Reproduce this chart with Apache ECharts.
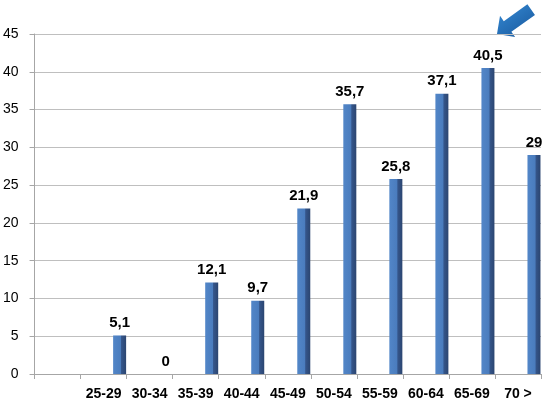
<!DOCTYPE html>
<html><head><meta charset="utf-8">
<script src="https://cdn.jsdelivr.net/npm/echarts@6/dist/echarts.min.js"></script>
<style>html,body{margin:0;padding:0;background:#fff}#c{width:550px;height:405px}</style>
</head><body><div id="c"></div>
<script>
const categories = ['', '25-29', '30-34', '35-39', '40-44', '45-49', '50-54', '55-59', '60-64', '65-69', '70 >'];
const values = [null, 5.1, 0, 12.1, 9.7, 21.9, 35.7, 25.8, 37.1, 40.5, 29];
const yTicks = { min: 0, max: 45, interval: 5 };

const chart = echarts.init(document.getElementById('c'), null, { renderer: 'canvas' });
const barColor = new echarts.graphic.LinearGradient(0, 0, 1, 0, [
  { offset: 0, color: '#5286c8' },
  { offset: 0.6, color: '#4a7cbd' },
  { offset: 0.64, color: '#35568b' },
  { offset: 1, color: '#2b4570' }
]);
chart.setOption({
  animation: false,
  grid: { left: 32, right: 9, top: 34, bottom: 31, containLabel: false },
  xAxis: {
    type: 'category',
    data: categories,
    boundaryGap: true,
    axisLine: { lineStyle: { color: '#a6a6a6' } },
    axisTick: { show: true, length: 5, alignWithLabel: false, lineStyle: { color: '#a6a6a6' } },
    axisLabel: { color: '#000', fontFamily: 'Liberation Sans', fontWeight: 'bold', fontSize: 14, margin: 13, interval: 0 }
  },
  yAxis: {
    type: 'value',
    min: yTicks.min, max: yTicks.max, interval: yTicks.interval,
    axisLine: { show: true, lineStyle: { color: '#a6a6a6' } },
    axisTick: { show: true, length: 5, lineStyle: { color: '#a6a6a6' } },
    splitLine: { lineStyle: { color: '#bfbfbf' } },
    axisLabel: { color: '#000', fontFamily: 'Liberation Sans', fontSize: 14, margin: 16 }
  },
  series: [
    { type: 'bar', data: categories.map(() => null), barWidth: 13, barGap: '146%' },
    {
      type: 'bar', data: values, barWidth: 13, barGap: '146%',
      itemStyle: { color: barColor },
      label: {
        show: true, position: 'top', distance: 5,
        color: '#000', fontFamily: 'Liberation Sans', fontWeight: 'bold', fontSize: 15,
        formatter: p => String(p.value).replace('.', ',')
      }
    }
  ],
  graphic: [{
    type: 'polygon',
    x: 497, y: 34, rotation: 0.62,
    shape: { points: [[0, 0], [13, -13], [13, -6.5], [42, -6.5], [42, 6.5], [13, 6.5], [13, 13]] },
    style: {
      fill: new echarts.graphic.LinearGradient(0, 0, 0, 1, [
        { offset: 0, color: '#2f7fc8' }, { offset: 1, color: '#1e62a8' }
      ])
    }
  }]
});
</script></body></html>
